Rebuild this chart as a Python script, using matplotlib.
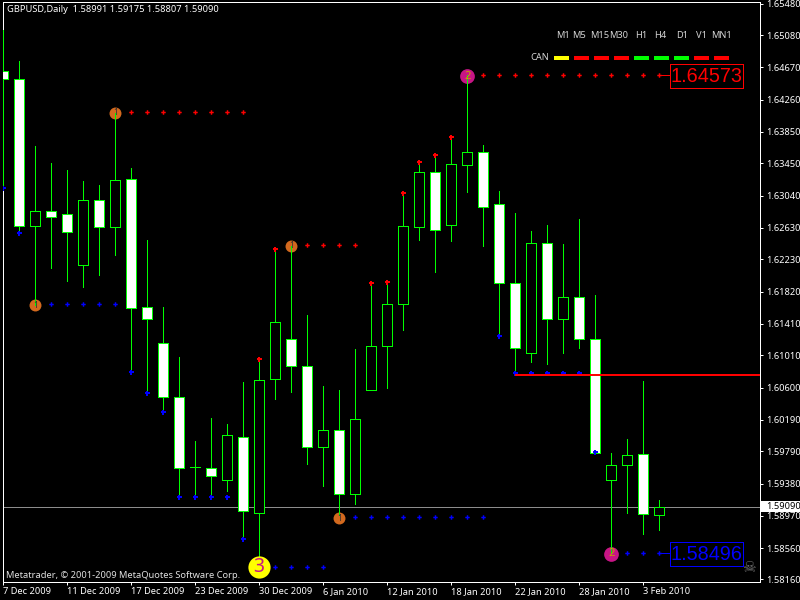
import matplotlib
matplotlib.use('Agg')
import matplotlib.pyplot as plt
from matplotlib.patches import Rectangle

# GBPUSD daily bars
opens = [1.64624, 1.64518, 1.62657, 1.62840, 1.62802, 1.62161, 1.62984, 1.62645, 1.63247,
         1.61620, 1.61162, 1.60476, 1.59586, 1.59573, 1.59421, 1.59967,
         1.59009, 1.60712, 1.61213, 1.60870, 1.59848, 1.60056, 1.59243, 1.60565, 1.61124,
         1.61658, 1.62637, 1.63336, 1.62670, 1.63433, 1.63590, 1.62929, 1.61925, 1.61035,
         1.62433, 1.61467, 1.61747, 1.61213, 1.59421, 1.59611, 1.59751, 1.58975]
closes = [1.64518, 1.62657, 1.62840, 1.62772, 1.62581, 1.62984, 1.62645, 1.63234, 1.61615,
          1.61467, 1.60476, 1.59573, 1.59586, 1.59471, 1.59993, 1.59026,
          1.60692, 1.61429, 1.60877, 1.59848, 1.60056, 1.59243, 1.60196, 1.61124, 1.61658,
          1.62650, 1.63336, 1.62599, 1.63438, 1.63590, 1.62899, 1.61925, 1.61099, 1.62433,
          1.61467, 1.61747, 1.61213, 1.59764, 1.59611, 1.59738, 1.58988, 1.59077]
highs = [1.65145, 1.64751, 1.63670, 1.63454, 1.63365, 1.63225, 1.63175, 1.64090, 1.63391,
         1.62475, 1.61620, 1.60988, 1.59920, 1.60213, 1.60136, 1.60670,
         1.60959, 1.62361, 1.62403, 1.61522, 1.60619, 1.60568, 1.61086, 1.61933, 1.61945,
         1.63077, 1.63467, 1.63560, 1.63789, 1.64573, 1.63683, 1.63098, 1.62819, 1.62590,
         1.62666, 1.62425, 1.62742, 1.61776, 1.59767, 1.59946, 1.60683, 1.59170]
lows = [1.63136, 1.62564, 1.61649, 1.62123, 1.61958, 1.61882, 1.62034, 1.62289, 1.60801,
        1.60530, 1.60293, 1.59212, 1.59212, 1.59212, 1.59288, 1.58678,
        1.58322, 1.60458, 1.60547, 1.59631, 1.59352, 1.58979, 1.59123, 1.60565, 1.60598,
        1.61335, 1.62479, 1.62072, 1.62467, 1.63089, 1.62403, 1.61259, 1.60781, 1.60928,
        1.60903, 1.61043, 1.61106, 1.59764, 1.58496, 1.59009, 1.58742, 1.58792]

# fractal marks over and under the bars
red_bars = [16, 17, 23, 24, 25, 26, 27, 28]
red_prices = [1.60959, 1.62361, 1.61933, 1.61945, 1.63077, 1.63467, 1.63560, 1.63789]
blue_bars = [0, 1, 8, 9, 10, 11, 12, 13, 14, 15, 31, 32, 33, 34, 35, 36, 37]
blue_prices = [1.63136, 1.62564, 1.60801, 1.60530, 1.60293, 1.59212, 1.59212, 1.59212, 1.59212,
               1.58678, 1.61259, 1.60785, 1.60785, 1.60785, 1.60785, 1.60785, 1.59780]

# swing levels: first bar, last bar, price, colour
level_first = [8, 3, 19, 17, 22, 30, 39]
level_last = [15, 7, 22, 20, 30, 41, 41]
level_price = [1.64103, 1.61662, 1.62412, 1.58322, 1.58954, 1.64573, 1.58496]
level_color = ['red', 'blue', 'red', 'blue', 'blue', 'red', 'blue']

orange_bars = [7, 2, 18, 21]
orange_prices = [1.64094, 1.61649, 1.62403, 1.58941]
purple_bars = [29, 38]
purple_prices = [1.64560, 1.58484]
yellow_bar = 15.95
yellow_price = 1.58318

resist_bar = 32
resist_price = 1.60763
bid_price = 1.59077

price_ticks = [1.65480, 1.65080, 1.64670, 1.64260, 1.63850, 1.63450, 1.63040, 1.62630, 1.62230,
               1.61820, 1.61410, 1.61010, 1.60600, 1.60190, 1.59790, 1.59380, 1.58970, 1.58560, 1.58160]
date_bars = [0, 4, 8, 12, 16, 20, 24, 28, 32, 36, 40]
date_labels = ['7 Dec 2009', '11 Dec 2009', '17 Dec 2009', '23 Dec 2009', '30 Dec 2009', '6 Jan 2010',
               '12 Jan 2010', '18 Jan 2010', '22 Jan 2010', '28 Jan 2010', '3 Feb 2010']

frames = ['M1', 'M5', 'M15', 'M30', 'H1', 'H4', 'D1', 'V1', 'MN1']
frame_x = [562.7, 579, 600, 619, 641.7, 660, 681.7, 701, 721]
frame_colors = ['yellow', 'red', 'red', 'red', 'lime', 'lime', 'lime', 'red', 'red']

font = 'Noto Sans'
small = 6.7
W, H = 800, 600

def fx(x):
    return x / W

def fy(y):
    return 1 - y / H

fig = plt.figure(figsize=(8, 6), dpi=100, facecolor='black')
ax = fig.add_axes([fx(2.5), fy(582), fx(760 - 2.5), (582 - 2) / H], facecolor='black')
ax.set_xlim(-0.05, 47.29)
ax.set_ylim(1.58128, 1.65501)

for s in ax.spines.values():
    s.set_color('white')
    s.set_linewidth(0.72)
    s.set_antialiased(False)

# bid line sits behind the candles
ax.axhline(bid_price, color='#8c8c8c', lw=0.72, zorder=1, antialiased=False)

# swing circles
ax.plot(orange_bars, orange_prices, 'o', ms=8.6, mfc='#d2691e', mec='none', zorder=2)
ax.plot(purple_bars, purple_prices, 'o', ms=10.6, mfc='#c71585', mec='none', zorder=2)

for i in range(len(opens)):
    top = max(opens[i], closes[i])
    bot = min(opens[i], closes[i])
    ax.plot([i, i], [lows[i], highs[i]], color='lime', lw=0.72, zorder=3, antialiased=False,
            solid_capstyle='butt')
    fill = 'white' if closes[i] < opens[i] else 'black'
    ax.bar(i, top - bot, bottom=bot, width=0.625, facecolor=fill, edgecolor='lime', linewidth=0.72,
           zorder=4, antialiased=False)

ax.plot([b - 0.04 for b in red_bars], red_prices, 'P', ms=3.6, color='red', mew=0, zorder=5)
ax.plot([b - 0.04 for b in blue_bars], blue_prices, 'P', ms=3.6, color='blue', mew=0, zorder=5)

for k in range(len(level_price)):
    bars = [b - 0.04 for b in range(level_first[k], level_last[k] + 1)]
    ax.plot(bars, [level_price[k]] * len(bars), 'P', ms=3.2, color=level_color[k], mew=0, zorder=5)

ax.plot([resist_bar, 47.29], [resist_price, resist_price], color='red', lw=1.44, zorder=6,
        antialiased=False, solid_capstyle='butt')

# numbers inside the circles
for b, p in zip(orange_bars, orange_prices):
    ax.text(b, p, '1', color='#303030', fontsize=6, ha='center', va='center', family=font, zorder=6)
for b, p in zip(purple_bars, purple_prices):
    ax.text(b, p, '2', color='#c8a000', fontsize=8, ha='center', va='center', family=font, zorder=6)

ax.plot([yellow_bar], [yellow_price], 'o', ms=16, mfc='yellow', mec='none', zorder=7)
ax.text(yellow_bar, yellow_price, '3', color='#c71585', fontsize=14, fontweight='bold', ha='center',
        va='center', family=font, zorder=8)

# price boxes at the end of the two latest levels
box_x, box_w, box_h = 41.65, 4.59, 24 / 7866
for p, c, txt in [(1.64573, 'red', '1.64573'), (1.58496, 'blue', '1.58496')]:
    ax.plot([41, box_x], [p, p], color=c, lw=0.72, zorder=5, antialiased=False)
    yc = p - 0.00016
    ax.add_patch(Rectangle((box_x, yc - box_h / 2), box_w, box_h, fc='black', ec=c, lw=0.72, zorder=6,
                           antialiased=False))
    ax.text(box_x + box_w / 2, yc, txt, color=c, fontsize=14.3, ha='center', va='center',
            family='Liberation Sans', zorder=7)

ax.yaxis.tick_right()
ax.set_yticks(price_ticks)
ax.set_yticklabels(['%.5f' % p for p in price_ticks], fontsize=small, color='white', family=font)
ax.set_xticks(date_bars)
ax.set_xticklabels(date_labels, fontsize=small, color='white', family=font, ha='left')
ax.tick_params(axis='y', length=2.2, width=0.72, color='white', pad=2.2)
ax.tick_params(axis='x', length=2.2, width=0.72, color='white', pad=1.5)

# header, copyright and timeframe panel
fig.text(fx(7), fy(10), 'GBPUSD,Daily  1.58991 1.59175 1.58807 1.59090', color='white', fontsize=small,
         family=font, va='center')
fig.text(fx(6), fy(575), 'Metatrader, © 2001-2009 MetaQuotes Software Corp.', color='#e0e0e0',
         fontsize=small, family=font, va='center')
fig.text(fx(749), fy(568), '☠', color='#707070', fontsize=11, ha='center', va='center', family='DejaVu Sans')

fig.text(fx(530), fy(58), 'CAN', color='#d3d3d3', fontsize=small, family=font, va='center')
for k in range(len(frames)):
    fig.text(fx(frame_x[k]), fy(36), frames[k], color='#d3d3d3', fontsize=small, family=font,
             ha='center', va='center')
    fig.add_artist(Rectangle((fx(553.7 + 20 * k), fy(60)), 15.5 / W, 4 / H, fc=frame_colors[k], ec='none',
                             transform=fig.transFigure, antialiased=False))

# current price tag on the scale
fig.add_artist(Rectangle((fx(761), fy(511.5)), 39 / W, 10.5 / H, fc='white', ec='none',
                         transform=fig.transFigure, zorder=5))
fig.text(fx(766), fy(506.5), '1.59090', color='black', fontsize=small, family=font, va='center', zorder=6)

fig.savefig('out.png', dpi=100, facecolor='black')
